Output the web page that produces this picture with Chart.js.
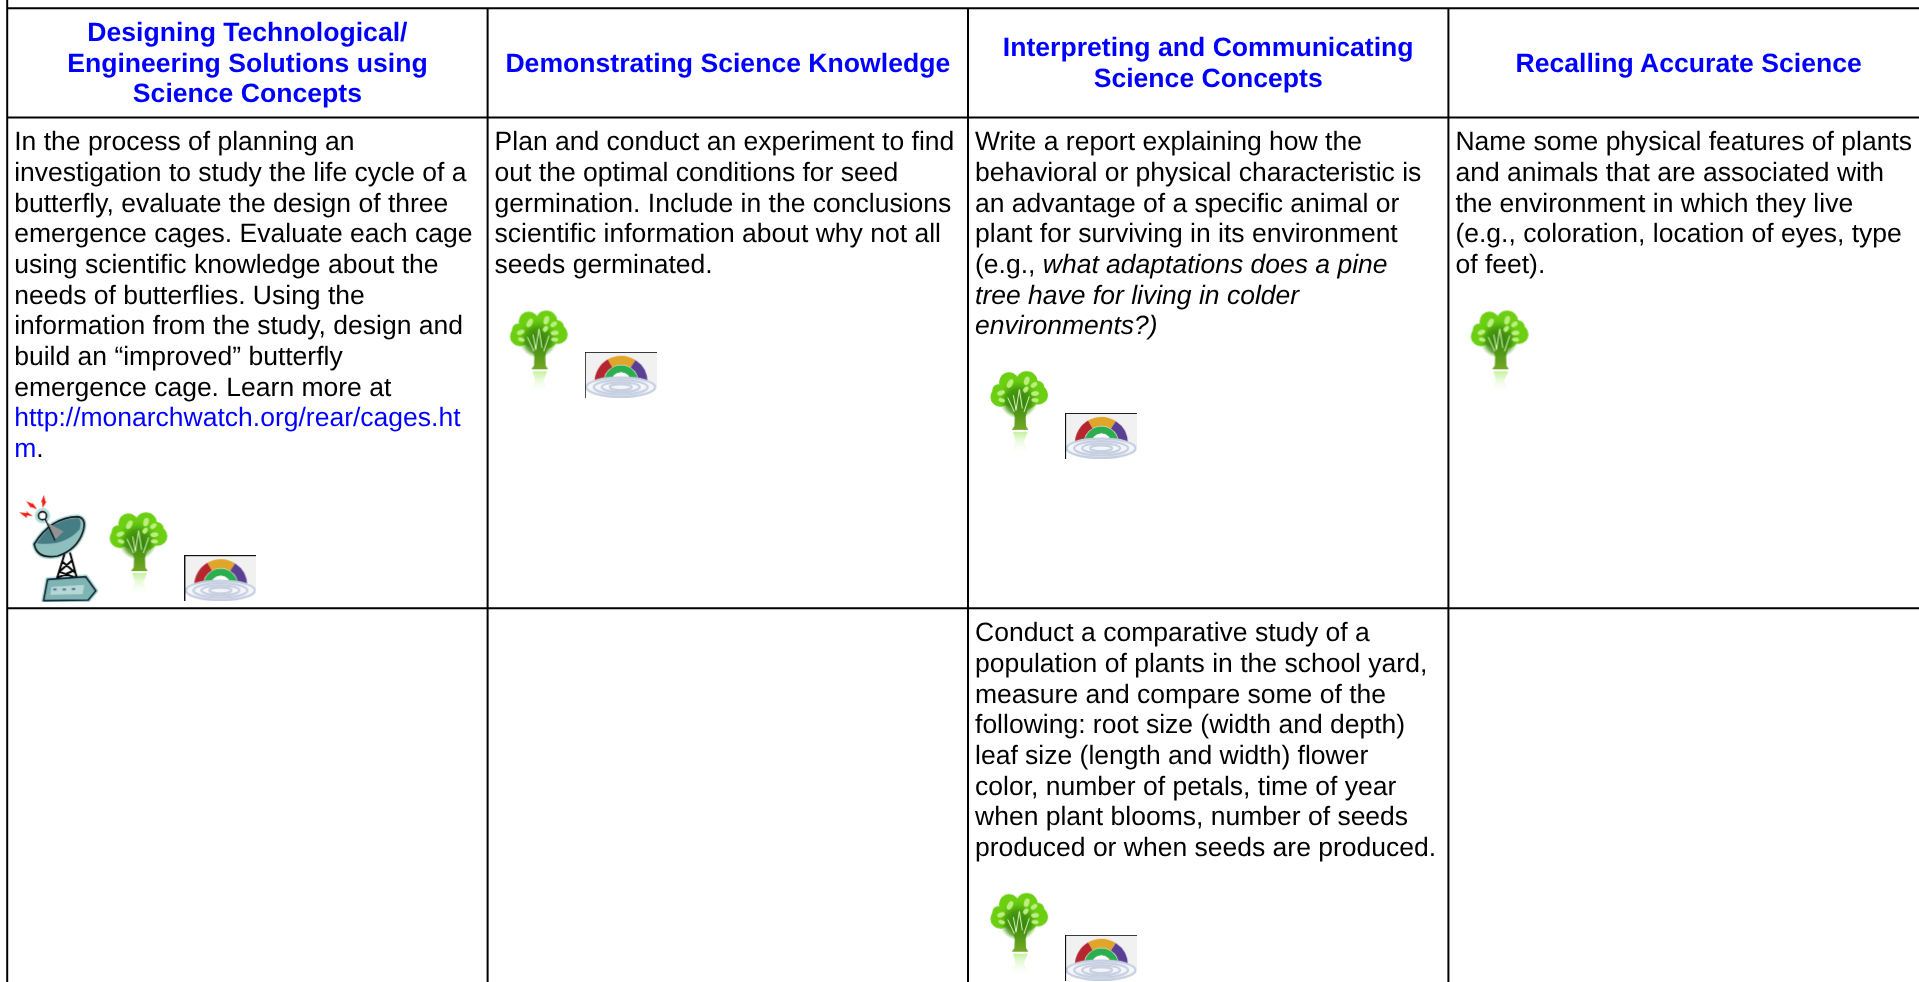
<!DOCTYPE html>
<html><head><meta charset="utf-8">
<style>html,body{margin:0;padding:0;background:#fff;overflow:hidden}canvas{display:block}</style>
<script src="https://cdn.jsdelivr.net/npm/chart.js@4"></script>
</head><body><canvas id="c" width="1919" height="982"></canvas>
<script>
// ---- content ----
const headerCol1 = ["Designing Technological/", "Engineering Solutions using", "Science Concepts"];
const headerCol2 = ["Demonstrating Science Knowledge"];
const headerCol3 = ["Interpreting and Communicating", "Science Concepts"];
const headerCol4 = ["Recalling Accurate Science"];
// markup: *italic*  [link]
const bodyCol1 = ["In the process of planning an","investigation to study the life cycle of a","butterfly, evaluate the design of three","emergence cages. Evaluate each cage","using scientific knowledge about the","needs of butterflies. Using the","information from the study, design and","build an “improved” butterfly","emergence cage. Learn more at","[http://monarchwatch.org/rear/cages.ht]","[m]."];
const bodyCol2 = ["Plan and conduct an experiment to find","out the optimal conditions for seed","germination. Include in the conclusions","scientific information about why not all","seeds germinated."];
const bodyCol3 = ["Write a report explaining how the","behavioral or physical characteristic is","an advantage of a specific animal or","plant for surviving in its environment","(e.g., *what adaptations does a pine*","*tree have for living in colder*","*environments?)*"];
const bodyCol4 = ["Name some physical features of plants","and animals that are associated with","the environment in which they live","(e.g., coloration, location of eyes, type","of feet)."];
const bodyCol3Row2 = ["Conduct a comparative study of a","population of plants in the school yard,","measure and compare some of the","following: root size (width and depth)","leaf size (length and width) flower","color, number of petals, time of year","when plant blooms, number of seeds","produced or when seeds are produced."];

// ---- table geometry in scale units ----
const columnEdges = [8, 488, 968, 1448];
const rowEdges = [9, 118, 608];
const xMax = 1919, yMax = 982;
const treeSpots = [[139, 555], [539, 353.5], [1019, 414], [1499, 353.5], [1019, 935]];
const gaugeSpots = [[221, 578], [621, 375], [1101, 436], [1101, 957]];
const dishSpots = [[57.5, 546]];

// ---- pictograms, painted once into small canvases and used as point styles ----
function mk(w, h, fn, blur) {
  const t = document.createElement('canvas'); t.width = w; t.height = h; fn(t.getContext('2d'));
  const c = document.createElement('canvas'); c.width = w; c.height = h; const g = c.getContext('2d');
  g.filter = 'blur(' + blur + 'px)'; g.drawImage(t, 0, 0);
  return c;
}
function poly(g, pts) { g.beginPath(); pts.forEach((p, i) => i ? g.lineTo(p[0], p[1]) : g.moveTo(p[0], p[1])); g.closePath(); }

const treeIcon = mk(68, 94, g => {
  g.scale(1/3, 1/3);
  const lobes = [[72,46,30],[125,46,33],[46,90,30],[160,84,29],[85,88,36],[125,90,36],[100,62,32],[100,105,30],[158,62,20],[40,70,18]];
  g.fillStyle = '#6ccf12';
  lobes.forEach(l => { g.beginPath(); g.arc(l[0], l[1], l[2], 0, 7); g.fill(); });
  const gr = g.createRadialGradient(100, 118, 6, 100, 95, 60);
  gr.addColorStop(0, '#2a7a0a'); gr.addColorStop(.6, 'rgba(60,140,14,.75)'); gr.addColorStop(1, 'rgba(90,190,16,0)');
  g.fillStyle = gr; g.beginPath(); g.arc(100, 95, 60, 0, 7); g.fill();
  g.fillStyle = '#bdee80';
  [[75,50,8,14,.5],[125,42,8,13,.3],[147,54,7,11,.9],[48,78,7,12,1.2],[150,80,7,12,1.4],[150,100,6,11,1.7],[122,68,7,10,.7],[50,100,6,10,1.9]].forEach(e => {
    g.beginPath(); g.ellipse(e[0], e[1], e[2], e[3], e[4], 0, 7); g.fill();
  });
  const tg = g.createLinearGradient(0, 110, 0, 190);
  tg.addColorStop(0, '#3f8c0e'); tg.addColorStop(1, '#74aa26');
  g.fillStyle = tg;
  poly(g, [[72,95],[90,130],[84,70],[100,110],[116,70],[112,130],[135,95],[122,150],[123,178],[130,189],[80,189],[88,178],[89,150]]); g.fill();
  g.strokeStyle = '#dff3c4'; g.lineWidth = 3;
  g.beginPath(); g.moveTo(68,92); g.lineTo(88,135); g.moveTo(85,85); g.lineTo(93,130); g.lineTo(103,68); g.lineTo(112,125); g.moveTo(133,88); g.lineTo(117,135); g.stroke();
  const rg = g.createLinearGradient(0, 195, 0, 262);
  rg.addColorStop(0, '#c4f29e'); rg.addColorStop(1, 'rgba(255,255,255,0)');
  g.fillStyle = rg;
  poly(g, [[84,195],[128,195],[116,225],[135,262],[70,262],[92,225]]); g.fill();
}, 0.5);

const gaugeIcon = mk(72, 46, g => {
  g.fillStyle = '#f1f1f1'; g.fillRect(0, 0, 72, 46);
  g.fillStyle = '#fff'; g.fillRect(1, 34, 71, 12);
  const cx = 36.3, cy = 30.5, R = 26.5, r = 17.5;
  [['#b5262e',180,240],['#e0a52a',240,303],['#5b3f94',303,360]].forEach(s => {
    g.fillStyle = s[0]; g.beginPath();
    g.arc(cx, cy, R, s[1]*Math.PI/180, s[2]*Math.PI/180);
    g.arc(cx, cy, r, s[2]*Math.PI/180, s[1]*Math.PI/180, true); g.closePath(); g.fill();
  });
  g.strokeStyle = '#2bae4f'; g.lineWidth = 7; g.beginPath(); g.arc(cx, cy, 13.5, Math.PI, 2*Math.PI); g.stroke();
  g.fillStyle = '#fff'; g.beginPath(); g.arc(cx, cy, 10, Math.PI, 2*Math.PI); g.fill();
  [[35.5,10],[28,7.6],[20,5.4],[12,3.4]].forEach(e => {
    g.fillStyle = '#f4f6fa'; g.strokeStyle = '#c6cfe1'; g.lineWidth = 2.2;
    g.beginPath(); g.ellipse(36, 35.3, e[0]-1, e[1]-.4, 0, 0, 7); g.fill(); g.stroke();
  });
  g.fillStyle = '#111'; g.fillRect(0, 0, 72, 1); g.fillRect(0, 0, 1, 46);
}, 0.35);

const dishIcon = mk(85, 112, g => {
  g.scale(1/3, 1/3); g.lineJoin = 'round'; g.lineCap = 'round';
  const bowl = () => { g.beginPath(); g.moveTo(60,162); g.quadraticCurveTo(110,82,190,80); g.quadraticCurveTo(218,84,207,122); g.quadraticCurveTo(190,178,130,198); g.quadraticCurveTo(68,208,60,162); g.closePath(); };
  const base = () => poly(g, [[100,268],[215,260],[245,302],[222,330],[88,332]]);
  g.strokeStyle = '#b2dede'; g.lineWidth = 14; bowl(); g.stroke(); base(); g.stroke();
  g.beginPath(); g.arc(85,77,16,0,7); g.stroke();
  g.strokeStyle = '#000'; g.lineWidth = 6;
  g.beginPath(); g.moveTo(150,195); g.lineTo(128,266); g.moveTo(168,190); g.lineTo(188,264); g.moveTo(145,215); g.lineTo(180,245); g.moveTo(172,212); g.lineTo(135,245); g.lineTo(182,262); g.moveTo(175,243); g.lineTo(130,263); g.stroke();
  g.fillStyle = '#8dbfbf'; bowl(); g.fill();
  g.fillStyle = '#467c84'; g.beginPath(); g.moveTo(68,160); g.quadraticCurveTo(112,86,192,85); g.quadraticCurveTo(204,92,196,118); g.quadraticCurveTo(150,170,68,160); g.fill();
  g.strokeStyle = '#111'; g.lineWidth = 5; bowl(); g.stroke();
  g.fillStyle = '#8f9495'; poly(g, [[100,98],[148,124],[122,150]]); g.fill();
  g.strokeStyle = '#111'; g.lineWidth = 4; g.beginPath(); g.moveTo(92,85); g.lineTo(122,150); g.stroke();
  g.fillStyle = '#fff'; g.lineWidth = 5; g.beginPath(); g.arc(85,77,12,0,7); g.fill(); g.stroke();
  g.fillStyle = '#7fb4b4'; base(); g.fill();
  g.fillStyle = '#b5d8d4'; poly(g, [[112,290],[210,284],[205,312],[108,314]]); g.fill();
  g.strokeStyle = '#123'; g.lineWidth = 5; base(); g.stroke();
  g.fillStyle = '#5d74b0'; [[122,298],[150,298],[178,297]].forEach(p => { g.beginPath(); g.ellipse(p[0],p[1],6,3.5,0,0,7); g.fill(); });
  g.fillStyle = '#f02018';
  poly(g, [[36,33],[56,42],[54,36],[68,58],[50,50],[52,56]]); g.fill();
  poly(g, [[89,14],[94,35],[98,32],[85,54],[84,36],[80,38]]); g.fill();
  poly(g, [[15,67],[38,69],[35,63],[56,78],[38,76],[38,84]]); g.fill();
}, 0.3);

// ---- rules as gapped polylines ----
const rulePoints = [];
rulePoints.push({x:columnEdges[0], y:0}, {x:columnEdges[0], y:yMax}, {x:null, y:null});
columnEdges.slice(1).forEach(e => rulePoints.push({x:e, y:rowEdges[0]}, {x:e, y:yMax}, {x:null, y:null}));
rowEdges.forEach(e => rulePoints.push({x:columnEdges[0], y:e}, {x:xMax, y:e}, {x:null, y:null}));

const FONT = '"Liberation Sans", Arial, sans-serif', SIZE = 26.5, BOLD_SIZE = 26.6, LEAD = 30.62;
const BLACK = '#000000', BLUE = '#0000ff';
const headerPlacement = [[headerCol1, 0, 41.7], [headerCol2, 1, 72.3], [headerCol3, 2, 56.7], [headerCol4, 3, 72.3]];
const bodyPlacement = [[bodyCol1, 0, 151], [bodyCol2, 1, 151], [bodyCol3, 2, 151], [bodyCol4, 3, 151], [bodyCol3Row2, 2, 641]];

function runs(line) {
  const out = []; const re = /\*([^*]+)\*|\[([^\]]+)\]|([^*\[]+)/g; let m;
  while ((m = re.exec(line))) {
    if (m[1]) out.push({t:m[1], i:true, c:BLACK});
    else if (m[2]) out.push({t:m[2], i:false, c:BLUE});
    else out.push({t:m[3], i:false, c:BLACK});
  }
  return out;
}
const textPlugin = { id:'tableText', afterDatasetsDraw(chart) {
  const {ctx, scales:{x, y}} = chart;
  ctx.save(); ctx.textBaseline = 'alphabetic'; ctx.fontKerning = 'normal';
  ctx.textRendering = 'geometricPrecision';
  headerPlacement.forEach(([lines, col, base]) => {
    const cx = x.getPixelForValue(columnEdges[col] + 240);
    ctx.font = 'bold ' + BOLD_SIZE + 'px ' + FONT; ctx.fillStyle = BLUE; ctx.textAlign = 'center';
    lines.forEach((l, i) => ctx.fillText(l, cx, y.getPixelForValue(base + i*LEAD)));
  });
  ctx.textAlign = 'left';
  bodyPlacement.forEach(([lines, col, base]) => {
    const x0 = x.getPixelForValue(columnEdges[col] + 7);
    lines.forEach((l, i) => {
      let px = x0; const py = y.getPixelForValue(base + i*LEAD);
      runs(l).forEach(r => {
        ctx.font = (r.i ? 'italic ' : '') + SIZE + 'px ' + FONT; ctx.fillStyle = r.c;
        ctx.fillText(r.t, px, py); px += ctx.measureText(r.t).width;
      });
    });
  });
  ctx.restore();
}};
const toPts = a => a.map(p => ({x:p[0], y:p[1]}));
const iconPoint = {pointRadius:0.2, pointHoverRadius:0, pointBorderWidth:0, pointHoverBorderWidth:0, showLine:false};
new Chart(document.getElementById('c'), {
  type:'scatter',
  data:{datasets:[
    {label:'rules', data:rulePoints, showLine:true, spanGaps:false, borderColor:'#000', borderWidth:2, pointRadius:0, pointHoverRadius:0, borderCapStyle:'butt', clip:false},
    {label:'tree', data:toPts(treeSpots), pointStyle:treeIcon, ...iconPoint},
    {label:'gauge', data:toPts(gaugeSpots), pointStyle:gaugeIcon, ...iconPoint},
    {label:'dish', data:toPts(dishSpots), pointStyle:dishIcon, ...iconPoint}
  ]},
  options:{responsive:false, animation:false, devicePixelRatio:1, layout:{padding:0},
    plugins:{legend:{display:false}, tooltip:{enabled:false}, title:{display:false}},
    // the rules' stroke reserves 1px round the plot, so the scale range is trimmed by 1 to keep 1 unit = 1 pixel
    scales:{x:{type:'linear', display:false, min:1, max:xMax-1}, y:{type:'linear', display:false, min:1, max:yMax-1, reverse:true}}},
  plugins:[textPlugin]
});
</script></body></html>
